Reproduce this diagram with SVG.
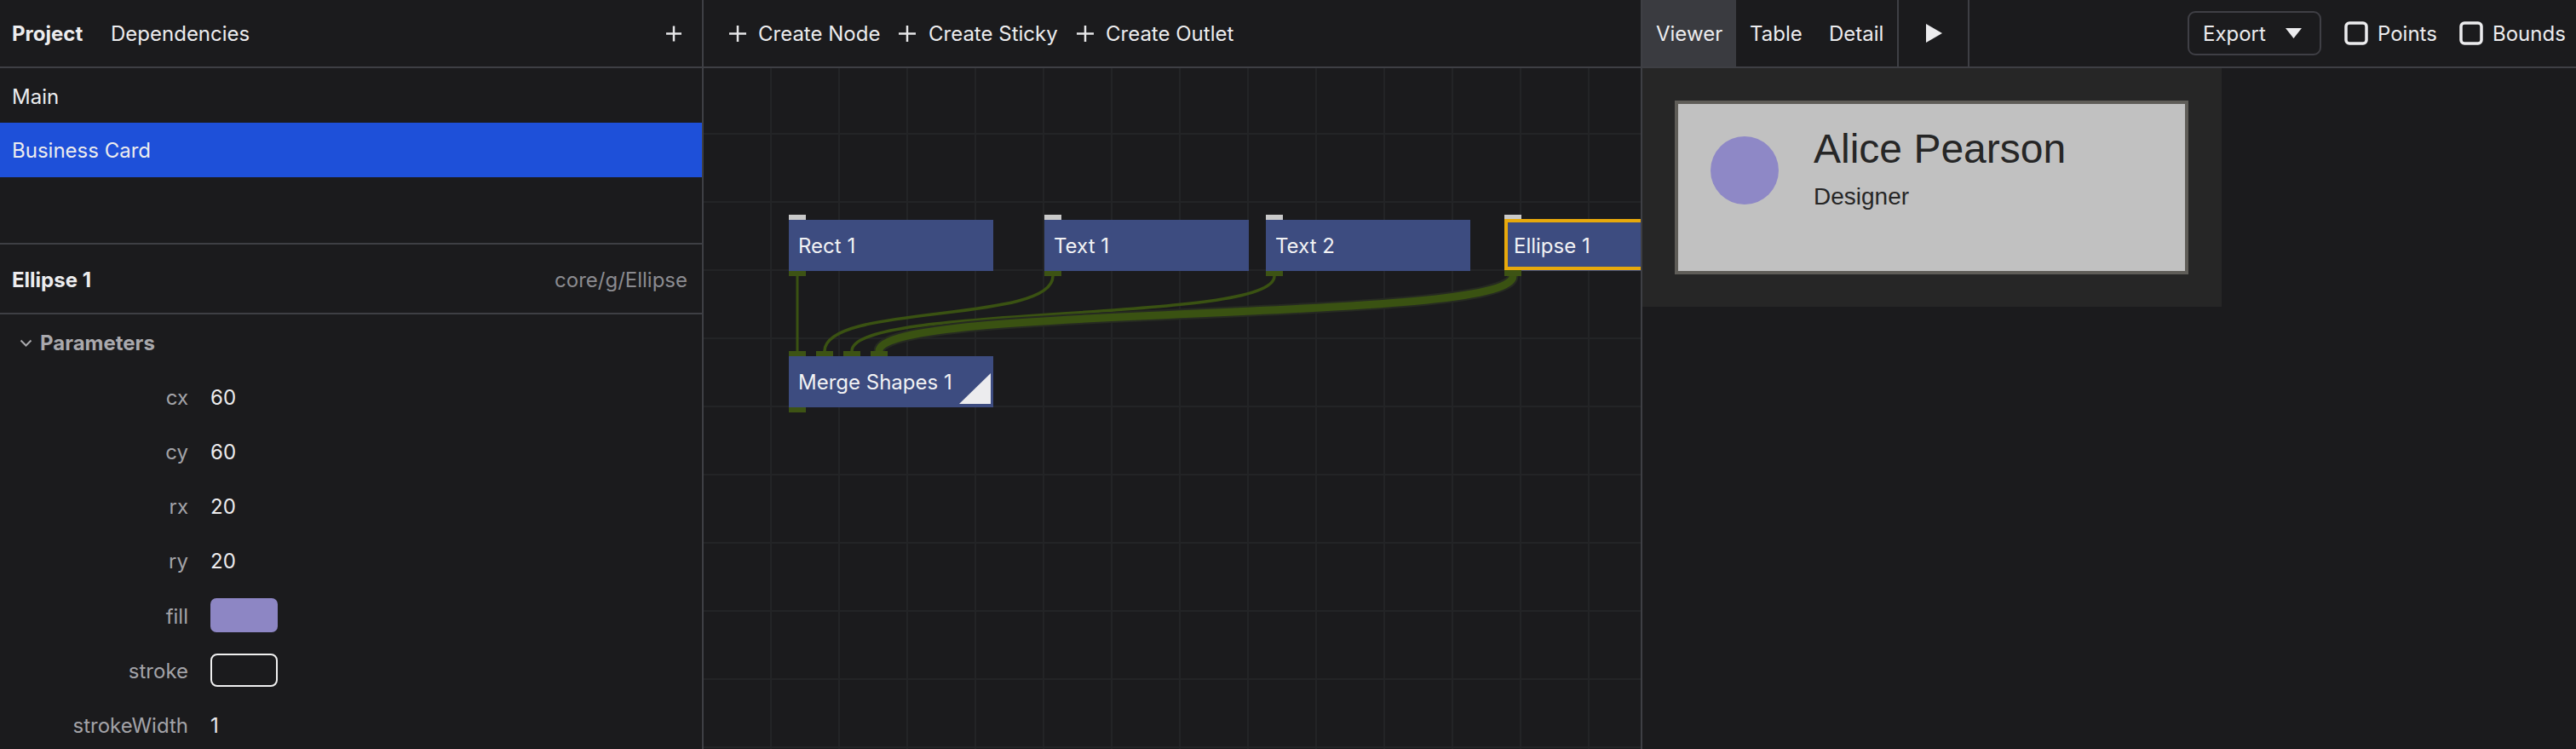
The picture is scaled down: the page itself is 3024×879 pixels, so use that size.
<svg xmlns="http://www.w3.org/2000/svg" width="3024" height="879" viewBox="0 0 3024 879">
<style>
text{font-family:Inter,"Liberation Sans",sans-serif;fill:#ececee}
.h{font-size:24px}
.b{font-weight:700}
.p{font-size:24px}
.lab{font-size:24px;fill:#a3a3a8;text-anchor:end}
.sep{stroke:#3e3f44;stroke-width:2}
.grid{stroke:#232426;stroke-width:2}
.node{fill:#3d4c80}
.nt{font-size:24px;fill:#f2f2f4}
.pin{fill:#c9c9c9}
.pout{fill:#3d5314}
.wire{fill:none;stroke:#3a5212;stroke-linecap:round}
.icon{stroke:#e6e6e8;stroke-width:2.5;fill:none}
.cb{fill:none;stroke:#ececee;stroke-width:3.5}
.card{font-family:"Liberation Sans",Arial,sans-serif;fill:#262626}
</style>
<rect x="0" y="0" width="3024" height="879" fill="#1b1b1d"/>

<!-- canvas grid -->
<g id="grid">
<path class="grid" d="M905 80V879M985 80V879M1065 80V879M1145 80V879M1225 80V879M1305 80V879M1385 80V879M1465 80V879M1545 80V879M1625 80V879M1705 80V879M1785 80V879M1865 80V879"/>
<path class="grid" d="M826 157H1926M826 237H1926M826 317H1926M826 397H1926M826 477H1926M826 557H1926M826 637H1926M826 717H1926M826 797H1926M826 877H1926"/>
</g>

<!-- left panel -->
<g id="left-panel">
<text class="h b" x="14" y="48">Project</text>
<text class="h" x="130" y="48">Dependencies</text>
<path class="icon" d="M782 39.5H800M791 30.5V48.5"/>
<text class="h" x="14" y="122">Main</text>
<rect x="0" y="144" width="824" height="64" fill="#1e50d9"/>
<text class="h" x="14" y="185">Business Card</text>
<line class="sep" x1="0" y1="286" x2="824" y2="286"/>
<text class="p b" x="14" y="337">Ellipse 1</text>
<text class="p" x="807" y="337" text-anchor="end" style="fill:#8b8b90">core/g/Ellipse</text>
<line class="sep" x1="0" y1="368" x2="824" y2="368"/>
<polyline points="24.5,399.5 30.5,405.5 36.5,399.5" fill="none" stroke="#a9a9ad" stroke-width="2"/>
<text class="p b" x="47" y="411" style="fill:#a9a9ad">Parameters</text>
<text class="lab" x="221" y="475">cx</text><text class="p" x="247" y="475">60</text>
<text class="lab" x="221" y="539">cy</text><text class="p" x="247" y="539">60</text>
<text class="lab" x="221" y="603">rx</text><text class="p" x="247" y="603">20</text>
<text class="lab" x="221" y="667">ry</text><text class="p" x="247" y="667">20</text>
<text class="lab" x="221" y="732">fill</text>
<rect x="247" y="702" width="79" height="40" rx="7" fill="#8d86c4"/>
<text class="lab" x="221" y="796">stroke</text>
<rect x="248" y="768" width="77" height="37" rx="7" fill="none" stroke="#f0f0f0" stroke-width="2"/>
<text class="lab" x="221" y="860">strokeWidth</text><text class="p" x="247" y="860">1</text>
</g>

<!-- canvas toolbar -->
<g id="toolbar">
<path class="icon" d="M856 39.5H876M866 30V49"/>
<text class="h" x="890" y="48">Create Node</text>
<path class="icon" d="M1055 39.5H1075M1065 30V49"/>
<text class="h" x="1090" y="48">Create Sticky</text>
<path class="icon" d="M1264 39.5H1284M1274 30V49"/>
<text class="h" x="1298" y="48">Create Outlet</text>
</g>

<!-- connectors -->
<g id="connectors">
<path class="wire" stroke-width="3" d="M936 324V412"/>
<path class="wire" stroke-width="3.5" d="M1236 324C1236 380 968 356 968 412"/>
<path class="wire" stroke-width="3.5" d="M1496 324C1496 380 1000 356 1000 412"/>
<path fill="none" stroke="#262a22" stroke-width="13" d="M1776 324C1776 380 1032 356 1032 412"/>
<path class="wire" stroke-width="9" d="M1776 324C1776 380 1032 356 1032 412"/>
</g>

<!-- nodes -->
<g id="node-rect1">
<rect class="pin" x="926" y="252" width="20" height="6"/>
<rect class="node" x="926" y="258" width="240" height="60"/>
<rect class="pout" x="926" y="318" width="20" height="6"/>
<text class="nt" x="937" y="297">Rect 1</text>
</g>
<g id="node-text1">
<rect class="pin" x="1226" y="252" width="20" height="6"/>
<rect class="node" x="1226" y="258" width="240" height="60"/>
<rect class="pout" x="1226" y="318" width="20" height="6"/>
<text class="nt" x="1237" y="297">Text 1</text>
</g>
<g id="node-text2">
<rect class="pin" x="1486" y="252" width="20" height="6"/>
<rect class="node" x="1486" y="258" width="240" height="60"/>
<rect class="pout" x="1486" y="318" width="20" height="6"/>
<text class="nt" x="1497" y="297">Text 2</text>
</g>
<g id="node-ellipse1">
<rect class="pin" x="1766" y="252" width="20" height="6"/>
<rect class="node" x="1766" y="258" width="240" height="60"/>
<rect x="1768" y="259" width="236" height="56" fill="none" stroke="#e8a90c" stroke-width="4"/>
<rect class="pout" x="1766" y="317" width="20" height="7"/>
<text class="nt" x="1777" y="297">Ellipse 1</text>
</g>
<g id="node-merge">
<rect class="pout" x="926" y="412" width="20" height="6"/>
<rect class="pout" x="958" y="412" width="20" height="6"/>
<rect class="pout" x="990" y="412" width="20" height="6"/>
<rect class="pout" x="1022" y="412" width="20" height="6"/>
<rect class="node" x="926" y="418" width="240" height="60"/>
<rect class="pout" x="926" y="478" width="20" height="6"/>
<text class="nt" x="937" y="457">Merge Shapes 1</text>
<polygon points="1163,438 1163,474 1126,474" fill="#ececee"/>
</g>

<!-- right panel -->
<g id="right-panel">
<rect x="1928" y="80" width="1096" height="799" fill="#1b1b1d"/>
<rect x="1928" y="0" width="110" height="78" fill="#3a3b40"/>
<text class="h" x="1944" y="48">Viewer</text>
<text class="h" x="2054" y="48">Table</text>
<text class="h" x="2147" y="48">Detail</text>
<line class="sep" x1="2228" y1="0" x2="2228" y2="78"/>
<polygon points="2261,28 2280,39 2261,50" fill="#ececee"/>
<line class="sep" x1="2311" y1="0" x2="2311" y2="78"/>
<rect x="2569" y="14" width="155" height="50" rx="8" fill="none" stroke="#3f3f45" stroke-width="2"/>
<text class="h" x="2586" y="48">Export</text>
<polygon points="2683,33 2702,33 2692.5,45" fill="#ececee"/>
<rect class="cb" x="2754" y="27" width="24" height="24" rx="4"/>
<text class="h" x="2791" y="48">Points</text>
<rect class="cb" x="2889" y="27" width="24" height="24" rx="4"/>
<text class="h" x="2926" y="48">Bounds</text>
<rect x="1928" y="80" width="680" height="280" fill="#262626"/>
<rect x="1968" y="120" width="599" height="200" fill="#c1c1c1" stroke="#5f5d58" stroke-width="4"/>
<circle cx="2048" cy="200" r="40" fill="#8e88c6"/>
<text class="card" x="2129" y="191" style="font-size:48px">Alice Pearson</text>
<text class="card" x="2129" y="240" style="font-size:28px">Designer</text>
</g>

<!-- frame separators -->
<g id="frame">
<line class="sep" x1="0" y1="79" x2="3024" y2="79"/>
<line class="sep" x1="825" y1="0" x2="825" y2="879"/>
<line class="sep" x1="1927" y1="0" x2="1927" y2="879"/>
</g>
</svg>
